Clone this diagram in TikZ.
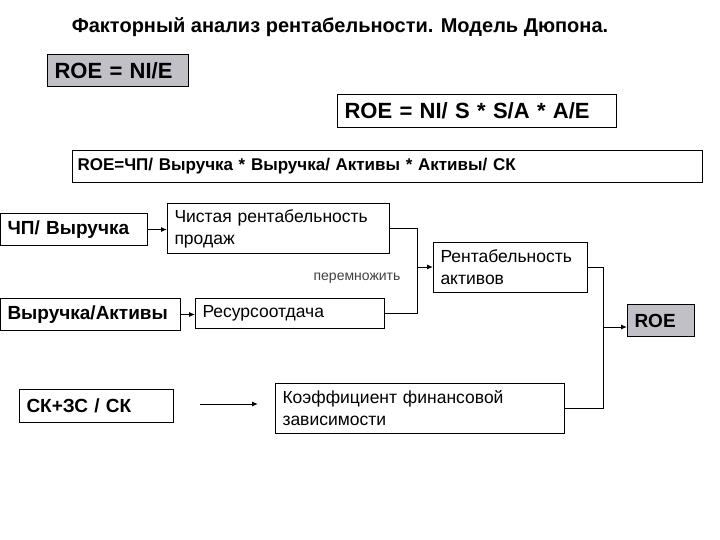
\documentclass[tikz,border=0pt]{standalone}
\usepackage{fontspec}
\setmainfont{Liberation Sans}
\usepackage{xcolor}
\usepackage{tikz}
\usetikzlibrary{arrows.meta}
\definecolor{boxgray}{RGB}{192,192,198}
\newcommand{\diagtitlefont}{\fontsize{20}{24}\bfseries\selectfont}
\newcommand{\formulafont}{\fontsize{22}{26}\bfseries\selectfont}
\newcommand{\longformulafont}{\fontsize{17}{21}\bfseries\selectfont}
\newcommand{\boldboxfont}{\fontsize{19}{23}\bfseries\selectfont}
\newcommand{\plainboxfont}{\fontsize{17.5}{22}\selectfont}
\newcommand{\notefont}{\fontsize{14}{16}\selectfont}
\tikzset{
  box/.style={draw, line width=1pt, anchor=north west, inner xsep=7pt, inner ysep=0pt, align=left, font=\plainboxfont},
  boldbox/.style={box, font=\boldboxfont},
  formulabox/.style={box, font=\formulafont},
  graybox/.style={fill=boxgray},
}

\begin{document}
\begin{tikzpicture}[x=1pt, y=-1pt, >={Latex[length=6pt,width=5pt]}, line width=1pt]
        % DuPont model: ROE split into three factors
        \useasboundingbox (0,0) rectangle (720,540);
        \node[font=\diagtitlefont, anchor=base] (title) at (340,33) {Факторный анализ рентабельности. Модель Дюпона.};

        \node[formulabox, graybox, text width=127pt, minimum height=32pt] (roenie) at (47,54) {ROE = NI/E};
        \node[formulabox, text width=265pt, minimum height=33pt] (roensa) at (337,94) {ROE = NI/ S * S/A * A/E};
        \node[box, font=\longformulafont, inner xsep=5pt, text width=620pt, minimum height=32pt] (roefull) at (72,150) {ROE=ЧП/ Выручка * Выручка/ Активы * Активы/ СК};

        \node[boldbox, text width=133pt, minimum height=32pt] (chpv) at (0,213) {ЧП/ Выручка};
        \node[box, text width=208pt, minimum height=50pt] (nrp) at (167,203) {Чистая рентабельность\\продаж};
        \node[boldbox, text width=166pt, minimum height=32pt] (va) at (0,298) {Выручка/Активы};
        \node[box, text width=175pt, minimum height=30pt] (ro) at (195,298) {Ресурсоотдача};
        \node[box, text width=140pt, minimum height=50pt] (ra) at (433,242) {Рентабельность\\активов};
        \node[boldbox, graybox, text width=53pt, minimum height=32pt] (roe) at (627,304) {ROE};
        \node[boldbox, text width=140pt, minimum height=33pt] (skzs) at (19,389) {СК+ЗС / СК};
        \node[box, text width=275pt, minimum height=50pt] (kfz) at (275,383) {Коэффициент финансовой\\зависимости};
        \node[font=\notefont, text=black!75] (mult) at (357,278) {перемножить};

        \coordinate (mul) at (417,267);
        \coordinate (joinroe) at (603,327);
        \coordinate (skout) at (200,404);
        \coordinate (kfzin) at (258,404);

        \draw[->] (chpv.east) -- (chpv.east -| nrp.west);
        \draw[->] (va.east) -- (va.east -| ro.west);
        \draw (nrp.east) -| (mul);
        \draw (ro.east) -| (mul);
        \draw[->] (mul) -- (mul -| ra.west);
        \draw (ra.east) -| (joinroe);
        \draw (kfz.east) -| (joinroe);
        \draw[->] (joinroe) -- (joinroe -| roe.west);
        \draw[->] (skout) -- (kfzin);
    \end{tikzpicture}
\end{document}
